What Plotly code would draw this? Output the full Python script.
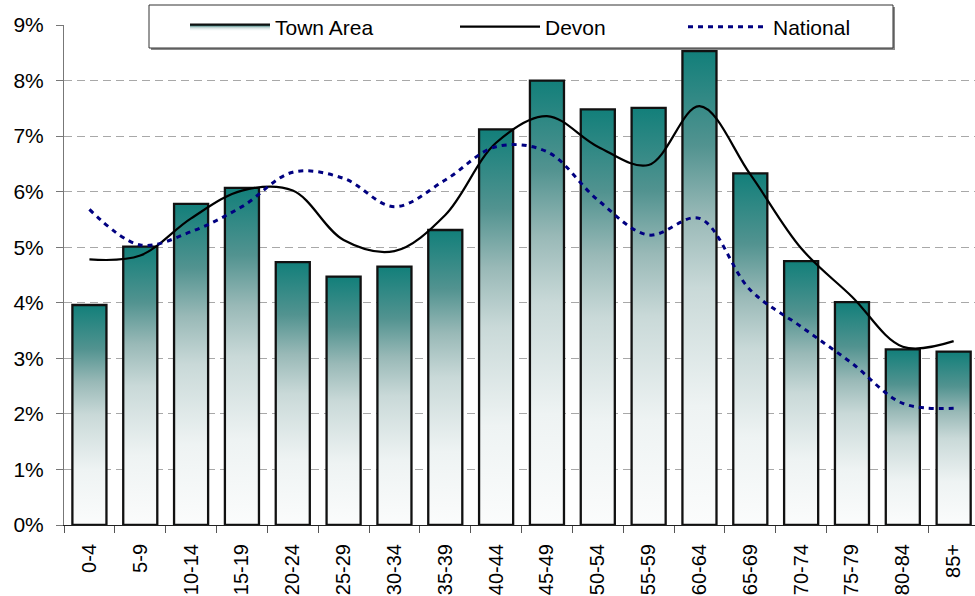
import plotly.graph_objects as go

age_groups = ["0-4", "5-9", "10-14", "15-19", "20-24", "25-29", "30-34", "35-39",
              "40-44", "45-49", "50-54", "55-59", "60-64", "65-69", "70-74", "75-79",
              "80-84", "85+"]
town_area = [3.96, 5.01, 5.78, 6.07, 4.73, 4.47, 4.65, 5.31, 7.12, 8.00, 7.48, 7.51,
             8.53, 6.33, 4.75, 4.01, 3.16, 3.12]
devon = [4.78, 4.85, 5.52, 6.02, 6.02, 5.13, 4.93, 5.58, 6.88, 7.36, 6.81, 6.48,
         7.54, 6.31, 4.98, 4.11, 3.21, 3.31]
national = [5.68, 5.04, 5.28, 5.73, 6.35, 6.24, 5.73, 6.21, 6.81, 6.72, 5.85, 5.22,
            5.52, 4.23, 3.57, 2.91, 2.19, 2.10]
y_ticks = [0, 1, 2, 3, 4, 5, 6, 7, 8, 9]

FONT = "Liberation Sans, Arial, sans-serif"
BAR_W = 0.67
grad = [[0.0, "#fbfcfc"], [0.25, "#eef3f3"], [0.5, "#c9d9d8"], [0.65, "#99b9b7"],
        [0.8, "#529390"], [1.0, "#127f7a"]]

fig = go.Figure()
pos = list(range(len(age_groups)))
for i, v in zip(pos, town_area):
    xl, xr = i - BAR_W / 2, i + BAR_W / 2
    fig.add_trace(go.Scatter(
        x=[xl, xl, xr, xr, xl], y=[0, v, v, 0, 0],
        mode="lines", fill="toself",
        fillgradient=dict(type="vertical", colorscale=grad),
        line=dict(color="#111111", width=2.3),
        name="Town Area", legendgroup="town", showlegend=(i == 0),
        legend="legend", hoverinfo="skip",
    ))

fig.add_trace(go.Scatter(
    x=pos, y=devon, mode="lines", name="Devon", legend="legend2",
    line=dict(color="#000000", width=2.2, shape="spline", smoothing=1.0),
))
fig.add_trace(go.Scatter(
    x=pos, y=national, mode="lines", name="National", legend="legend3",
    line=dict(color="#000080", width=3, shape="spline", smoothing=1.0, dash="5px,5px"),
))

# plot area spans page x 64..975, y 25..525
PW, PH = 911.0, 500.0


def px_x(px):
    return (px - 64) / PW


def px_y(py):
    return 1 - (py - 25) / PH


leg_common = dict(orientation="h", xanchor="left", yanchor="middle", y=px_y(27),
                  bgcolor="rgba(0,0,0,0)", borderwidth=0, itemwidth=80,
                  font=dict(size=21, family=FONT, color="#000000"))

fig.update_layout(
    width=975, height=596,
    margin=dict(l=64, r=0, t=25, b=71),
    paper_bgcolor="white", plot_bgcolor="white",
    font=dict(family=FONT, color="#000000"),
    legend=dict(x=px_x(185), **leg_common),
    legend2=dict(x=px_x(455), **leg_common),
    legend3=dict(x=px_x(683), **leg_common),
    shapes=[
        dict(type="rect", xref="paper", yref="paper", layer="above",
             x0=px_x(151), x1=px_x(895), y0=px_y(50), y1=px_y(7),
             fillcolor="#8a8a8a", line=dict(width=0)),
        dict(type="rect", xref="paper", yref="paper", layer="above",
             x0=px_x(149), x1=px_x(893), y0=px_y(48), y1=px_y(5),
             fillcolor="white", line=dict(color="#333333", width=1)),
    ],
)
fig.update_xaxes(
    range=[-0.5, 17.42], tickmode="array", tickvals=pos, ticktext=age_groups,
    tickangle=-90, ticks="", tickfont=dict(size=20, family=FONT),
    ticklabelstandoff=10, automargin=False,
    showgrid=False, zeroline=False, showline=True, linecolor="#222222", linewidth=1,
    minor=dict(tickmode="linear", tick0=-0.5, dtick=1, ticks="outside", ticklen=7,
               tickcolor="#555555", tickwidth=1, showgrid=False),
)
fig.update_yaxes(
    range=[0, 9], tickmode="array", tickvals=y_ticks,
    ticktext=[f"{t}%" for t in y_ticks],
    ticks="outside", ticklen=7, tickcolor="#777777",
    tickfont=dict(size=21, family=FONT), ticklabelstandoff=8, automargin=False,
    showgrid=True, gridcolor="#a8a8a8", gridwidth=1, griddash="8px,5px",
    zeroline=False, showline=True, linecolor="#777777", linewidth=1,
)

fig.write_html("out.html",
               config={"displayModeBar": False},
               post_script="document.body.style.margin='0';"
                           "document.body.style.overflow='hidden';")
